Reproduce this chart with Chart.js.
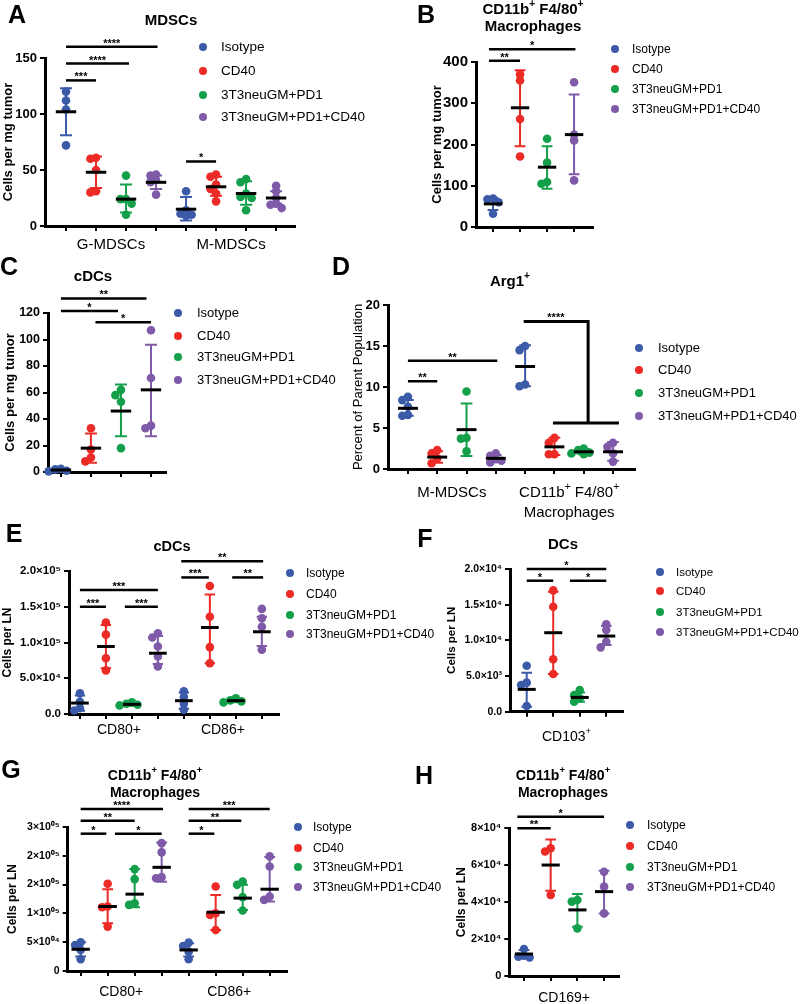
<!DOCTYPE html>
<html>
<head>
<meta charset="utf-8">
<script src="https://cdn.jsdelivr.net/npm/chart.js@4.4.1/dist/chart.umd.min.js"></script>
<style>
  html, body { margin: 0; padding: 0; background: #fff; }
  #page { position: relative; width: 800px; height: 1004px; overflow: hidden; }
  #page canvas { position: absolute; left: 0; top: 0; }
</style>
</head>
<body>
<div id="page"></div>
<script>
const FAMILY = '"Liberation Sans", Arial, sans-serif';
const groupNames = ['Isotype', 'CD40', '3T3neuGM+PD1', '3T3neuGM+PD1+CD40'];
const groupColors = ['#3b5aa7', '#ec2a26', '#14a04b', '#7e5aa8'];

// ---- A: MDSCs (cells per mg tumor) ----
const mdscCategories = ['G-MDSCs', 'M-MDSCs'];
const mdscPoints = [
  [120, 112, 104, 72], [61, 60, 50, 31, 30], [45, 24, 24, 20, 10], [46, 45, 41, 39, 28],
  [31, 14, 11, 10, 9], [46, 44, 37, 33, 29, 22], [42, 39, 29, 26, 25, 14], [36, 31, 25, 20, 19, 16]
];
const mdscMeans = [102, 48, 24, 39, 15, 35, 29, 25];
const mdscSdHigh = [123, 62, 37, 45, 26, 44, 40, 31];
const mdscSdLow = [81, 34, 12, 33, 5, 27, 19, 20];
const mdscSig = [[0, 1, 130, '***'], [0, 2.1, 145, '****'], [0, 3.05, 160, '****'], [4, 5, 57.6, '*']];
const mdscTicks = [0, 50, 100, 150];
const mdscTickLabels = ['0', '50', '100', '150'];

// ---- B: tumor macrophages ----
const macCategories = [];
const macPoints = [[69, 67, 60, 32], [370, 355, 262, 171], [214, 156, 109, 105], [351, 224, 210, 113]];
const macMeans = [56, 289, 145, 224];
const macSdHigh = [71, 380, 196, 321];
const macSdLow = [41, 196, 93, 128];
const macSig = [[-0.15, 1, 403, '**'], [-0.15, 3.05, 431, '*']];
const macTicks = [0, 100, 200, 300, 400];
const macTickLabels = ['0', '100', '200', '300', '400'];

// ---- C: tumor cDCs ----
const cdcCategories = [];
const cdcPoints = [[2.5, 2, 1, 0.5], [33, 17, 11, 8], [62, 58, 53, 18], [107, 71, 35, 33]];
const cdcMeans = [1.5, 18, 46, 62];
const cdcSdHigh = [2.5, 29, 66, 96];
const cdcSdLow = [0.5, 7, 27, 27];
const cdcSig = [[0, 2.85, 131, '**'], [0, 1.9, 121.5, '*'], [1.15, 3, 113, '*']];
const cdcTicks = [0, 20, 40, 60, 80, 100, 120];
const cdcTickLabels = ['0', '20', '40', '60', '80', '100', '120'];

// ---- D: Arg1+ percent of parent ----
const arg1Categories = ['M-MDSCs', 'CD11b^+ F4/80^+|Macrophages'];
const arg1Points = [
  [8.8, 8.4, 7.6, 6.6, 6.5], [2.3, 1.9, 1.3, 0.7], [9.45, 3.8, 3.7, 2.15], [1.9, 1.6, 1.2, 1.0, 0.8],
  [15.0, 14.5, 10.3, 10.1], [3.8, 3.2, 1.8, 1.8], [2.5, 2.3, 2.0, 1.9, 1.8], [3.2, 2.7, 1.9, 0.9]
];
const arg1Means = [7.4, 1.45, 4.8, 1.3, 12.5, 2.7, 2.1, 2.1];
const arg1SdHigh = [8.4, 2.15, 8.0, 1.7, 15.1, 3.8, 2.4, 3.3];
const arg1SdLow = [6.5, 0.75, 1.6, 0.9, 10.1, 1.7, 1.8, 1.0];
const arg1Sig = [[0, 1, 10.7, '**'], [0, 3.05, 13.2, '**']];
const arg1Bracket = [3.95, 6.15, 18.0, 4.95, 7.2, 5.6, '****']; // top from/to/y, base from/to/y
const arg1Ticks = [0, 5, 10, 15, 20];
const arg1TickLabels = ['0', '5', '10', '15', '20'];

// ---- E: LN cDCs ----
const lnCdcCategories = ['CD80+', 'CD86+'];
const lnCdcPoints = [
  [29000, 17000, 8000, 5000], [128000, 111000, 78000, 61000], [16300, 14400, 13000, 12000], [113000, 107000, 94400, 80500, 66500],
  [31600, 23700, 14400, 6000], [179000, 136000, 93500, 71000], [22000, 19000, 17700, 16300], [147000, 134000, 122000, 90000]
];
const lnCdcMeans = [15300, 94400, 13500, 85000, 18600, 121000, 18600, 115000];
const lnCdcSdHigh = [26000, 124600, 15500, 109000, 30000, 167000, 21000, 136000];
const lnCdcSdLow = [4600, 64000, 11500, 70000, 7400, 71000, 16500, 95000];
const lnCdcSig = [[0, 1, 150000, '***'], [1.73, 3, 150000, '***'], [0, 3, 173500, '***'],
  [3.9, 4.96, 191000, '***'], [5.86, 7.05, 191000, '**'], [3.9, 7.05, 213500, '**']];
const lnCdcTicks = [0, 50000, 100000, 150000, 200000];
const lnCdcTickLabels = ['0.0', '5.0×10⁴', '1.0×10⁵', '1.5×10⁵', '2.0×10⁵'];

// ---- F: LN DCs ----
const lnDcCategories = ['CD103^+'];
const lnDcPoints = [[6450, 4070, 3740, 800], [17000, 14700, 7340, 5280], [3040, 2340, 1870, 1400], [12240, 11450, 9800, 9020]];
const lnDcMeans = [3130, 11070, 2000, 10600];
const lnDcSdHigh = [5470, 16800, 2700, 12000];
const lnDcSdLow = [700, 5280, 1400, 9350];
const lnDcSig = [[0, 1, 18360, '*'], [1.63, 3, 18360, '*'], [0, 3, 20000, '*']];
const lnDcTicks = [0, 5000, 10000, 15000, 20000];
const lnDcTickLabels = ['0.0', '5.0×10³', '1.0×10⁴', '1.5×10⁴', '2.0×10⁴'];

// ---- G: LN macrophages ----
const lnMacCategories = ['CD80+', 'CD86+'];
const lnMacPoints = [
  [49900, 45200, 36500, 20300], [151400, 112000, 110800, 77100], [176900, 159500, 117700, 114800], [222000, 206000, 163000, 161000],
  [49300, 43500, 33600, 20300], [146800, 100300, 97400, 71300], [155500, 149600, 128200, 105000], [199000, 181500, 129300, 123500]
];
const lnMacMeans = [37700, 112000, 133400, 180000, 36500, 102000, 126500, 142000];
const lnMacSdHigh = [49900, 142000, 177000, 223000, 48000, 132000, 149600, 197800];
const lnMacSdLow = [25000, 83000, 110800, 155000, 25000, 71300, 106000, 120600];
const lnMacSig = [[0, 0.95, 238400, '*'], [1.27, 3, 238400, '*'], [0, 2, 261000, '**'], [0, 3.05, 281300, '****'],
  [4, 4.95, 238400, '*'], [4, 5.95, 261000, '**'], [4, 7, 281300, '***']];
const lnMacTicks = [0, 50000, 100000, 150000, 200000, 250000];
const lnMacTickLabels = ['0', '5×10⁰⁴', '1×10⁰⁵', '2×10⁰⁵', '2×10⁰⁵', '3×10⁰⁵'];

// ---- H: LN CD169+ macrophages ----
const cd169Categories = ['CD169+'];
const cd169Points = [[14600, 11000, 10500, 10100], [69200, 67400, 43900], [41200, 40300, 25800], [56500, 48400, 33900]];
const cd169Means = [11900, 60100, 35800, 45700];
const cd169SdHigh = [14100, 74000, 44400, 57000];
const cd169SdLow = [10100, 46200, 26700, 33900];
const cd169Sig = [[-0.25, 1, 80000, '**'], [-0.25, 3, 86300, '*']];
const cd169Ticks = [0, 20000, 40000, 60000, 80000];
const cd169TickLabels = ['0', '2×10⁴', '4×10⁴', '6×10⁴', '8×10⁴'];

// ---- layout (page pixels) ----
const panels = [
  { letter: 'A', lx: 17, ly: 16, title: ['MDSCs'], tx: 171, ty: [21], tSize: 15,
    box: [45, 58, 295, 226], xr: [-0.7, 7.63], yTitle: 'Cells per mg tumor', ytx: 8, ytFont: 'bold', ytSize: 13, tickSize: 13,
    leg: [203, 221, [47, 71, 95, 117], 13.5], catY: 245, catSize: 15,
    points: mdscPoints, means: mdscMeans, hi: mdscSdHigh, lo: mdscSdLow, sig: mdscSig, ticks: mdscTicks, labels: mdscTickLabels, cats: mdscCategories },
  { letter: 'B', lx: 426, ly: 16, title: ['CD11b^+ F4/80^+', 'Macrophages'], tx: 533, ty: [10, 27], tSize: 15,
    box: [476, 62, 593, 227], xr: [-0.63, 3.7], yTitle: 'Cells per mg tumor', ytx: 437, ytFont: 'bold', ytSize: 13, tickSize: 15,
    leg: [615, 632, [49, 69, 89, 109], 12], catY: 0, catSize: 15,
    points: macPoints, means: macMeans, hi: macSdHigh, lo: macSdLow, sig: macSig, ticks: macTicks, labels: macTickLabels, cats: macCategories },
  { letter: 'C', lx: 9, ly: 268, title: ['cDCs'], tx: 93, ty: [277], tSize: 15,
    box: [48, 313, 166, 472], xr: [-0.43, 3.5], yTitle: 'Cells per mg tumor', ytx: 10, ytFont: 'bold', ytSize: 13, tickSize: 12.5,
    leg: [178, 197, [313, 336, 357, 380], 13], catY: 0, catSize: 15,
    points: cdcPoints, means: cdcMeans, hi: cdcSdHigh, lo: cdcSdLow, sig: cdcSig, ticks: cdcTicks, labels: cdcTickLabels, cats: cdcCategories },
  { letter: 'D', lx: 341, ly: 268, title: ['Arg1^+'], tx: 510, ty: [282], tSize: 15,
    box: [388, 305, 635, 469], xr: [-0.68, 7.75], yTitle: 'Percent of Parent Population', ytx: 358, ytFont: 'normal', ytSize: 13, tickSize: 13,
    leg: [639, 658, [348, 370, 393, 416], 13], catY: 493, catSize: 15, bracket: arg1Bracket,
    points: arg1Points, means: arg1Means, hi: arg1SdHigh, lo: arg1SdLow, sig: arg1Sig, ticks: arg1Ticks, labels: arg1TickLabels, cats: arg1Categories },
  { letter: 'E', lx: 14, ly: 535, title: ['cDCs'], tx: 172, ty: [547], tSize: 14.5,
    box: [69, 571, 279, 714], xr: [-0.42, 7.66], yTitle: 'Cells per LN', ytx: 8, ytFont: 'bold', ytSize: 12, tickSize: 11.5,
    leg: [290, 306, [573, 594, 615, 634], 12], catY: 730, catSize: 14,
    points: lnCdcPoints, means: lnCdcMeans, hi: lnCdcSdHigh, lo: lnCdcSdLow, sig: lnCdcSig, ticks: lnCdcTicks, labels: lnCdcTickLabels, cats: lnCdcCategories },
  { letter: 'F', lx: 425, ly: 540, title: ['DCs'], tx: 563, ty: [545], tSize: 15,
    box: [510, 569, 622.7, 711.7], xr: [-0.63, 3.62], yTitle: 'Cells per LN', ytx: 452, ytFont: 'bold', ytSize: 11.5, tickSize: 10.5,
    leg: [660, 676, [572, 591, 612, 632], 11.5], catY: 737, catSize: 14,
    points: lnDcPoints, means: lnDcMeans, hi: lnDcSdHigh, lo: lnDcSdLow, sig: lnDcSig, ticks: lnDcTicks, labels: lnDcTickLabels, cats: lnDcCategories },
  { letter: 'G', lx: 11, ly: 771, title: ['CD11b^+ F4/80^+', 'Macrophages'], tx: 155, ty: [776, 793], tSize: 14,
    box: [67.7, 827, 286.7, 971], xr: [-0.48, 7.63], yTitle: 'Cells per LN', ytx: 13, ytFont: 'bold', ytSize: 12, tickSize: 10.5,
    leg: [298, 313, [827, 848, 867, 887], 12], catY: 992, catSize: 14,
    points: lnMacPoints, means: lnMacMeans, hi: lnMacSdHigh, lo: lnMacSdLow, sig: lnMacSig, ticks: lnMacTicks, labels: lnMacTickLabels, cats: lnMacCategories },
  { letter: 'H', lx: 424, ly: 777, title: ['CD11b^+ F4/80^+', 'Macrophages'], tx: 563, ty: [776, 793], tSize: 14,
    box: [509.3, 828.3, 619.3, 976], xr: [-0.55, 3.57], yTitle: 'Cells per LN', ytx: 462, ytFont: 'bold', ytSize: 12, tickSize: 11,
    leg: [630, 647, [825, 846, 867, 887], 12], catY: 998, catSize: 14,
    points: cd169Points, means: cd169Means, hi: cd169SdHigh, lo: cd169SdLow, sig: cd169Sig, ticks: cd169Ticks, labels: cd169TickLabels, cats: cd169Categories }
];

const POINT_R = 4.3;

// split "CD11b^+" into plain and superscript runs
function richParts(text) {
  const parts = [];
  let last = 0;
  text.replace(/\^(.)/g, (m, ch, i) => {
    if (i > last) parts.push([text.slice(last, i), false]);
    parts.push([ch, true]);
    last = i + m.length;
  });
  if (last < text.length) parts.push([text.slice(last), false]);
  return parts;
}

function drawRich(ctx, text, cx, cy, size, weight) {
  const parts = richParts(text);
  const fontOf = sup => `${weight} ${sup ? size * 0.68 : size}px ${FAMILY}`;
  let w = 0;
  parts.forEach(([s, sup]) => { ctx.font = fontOf(sup); w += ctx.measureText(s).width; });
  let xx = cx - w / 2;
  ctx.textAlign = 'left';
  ctx.textBaseline = 'middle';
  parts.forEach(([s, sup]) => {
    ctx.font = fontOf(sup);
    ctx.fillText(s, xx, sup ? cy - size * 0.38 : cy);
    xx += ctx.measureText(s).width;
  });
}

// nudge overlapping dots sideways, like a column scatter
function spreadColumn(vals, pyUnit, pxUnit) {
  const placed = [];
  const steps = [0, -1, 1, -1.6, 1.6, -2.2, 2.2];
  const gap = POINT_R * 1.3;
  return vals.map(v => {
    const py = v * pyUnit;
    for (const s of steps) {
      const px = s * gap;
      if (placed.every(q => Math.hypot(q[0] - px, q[1] - py) >= gap)) {
        placed.push([px, py]);
        return px / pxUnit;
      }
    }
    placed.push([0, py]);
    return 0;
  });
}

function makeOverlay(p) {
  return {
    id: 'overlay',
    beforeDatasetsDraw(chart) {
      const { ctx, scales: { x, y } } = chart;
      const unit = x.getPixelForValue(1) - x.getPixelForValue(0);
      ctx.save();
      ctx.lineWidth = 2;
      p.means.forEach((m, c) => {
        const cx = x.getPixelForValue(c);
        const cap = unit * 0.2;
        const hi = y.getPixelForValue(p.hi[c]);
        const lo = y.getPixelForValue(p.lo[c]);
        ctx.strokeStyle = groupColors[c % 4];
        ctx.beginPath();
        ctx.moveTo(cx, hi); ctx.lineTo(cx, lo);
        ctx.moveTo(cx - cap, hi); ctx.lineTo(cx + cap, hi);
        ctx.moveTo(cx - cap, lo); ctx.lineTo(cx + cap, lo);
        ctx.stroke();
      });
      ctx.restore();
    },
    afterDatasetsDraw(chart) {
      const { ctx, scales: { x, y } } = chart;
      const unit = x.getPixelForValue(1) - x.getPixelForValue(0);
      ctx.save();
      ctx.fillStyle = '#000';
      ctx.strokeStyle = '#000';

      // mean lines
      ctx.lineWidth = 3;
      p.means.forEach((m, c) => {
        const cx = x.getPixelForValue(c);
        const my = y.getPixelForValue(m);
        ctx.beginPath();
        ctx.moveTo(cx - unit * 0.34, my);
        ctx.lineTo(cx + unit * 0.34, my);
        ctx.stroke();
      });

      // significance bars
      ctx.lineWidth = 2.5;
      ctx.font = `bold 11px ${FAMILY}`;
      ctx.textAlign = 'center';
      ctx.textBaseline = 'alphabetic';
      p.sig.forEach(([a, b, v, s]) => {
        const x1 = x.getPixelForValue(a), x2 = x.getPixelForValue(b), yy = y.getPixelForValue(v);
        ctx.beginPath();
        ctx.moveTo(x1, yy); ctx.lineTo(x2, yy);
        ctx.stroke();
        ctx.fillText(s, (x1 + x2) / 2, yy);
      });
      if (p.bracket) {
        const [a, b, v, c, d, w, s] = p.bracket;
        ctx.lineWidth = 3;
        ctx.beginPath();
        ctx.moveTo(x.getPixelForValue(a), y.getPixelForValue(v));
        ctx.lineTo(x.getPixelForValue(b), y.getPixelForValue(v));
        ctx.lineTo(x.getPixelForValue(b), y.getPixelForValue(w));
        ctx.moveTo(x.getPixelForValue(c), y.getPixelForValue(w));
        ctx.lineTo(x.getPixelForValue(d), y.getPixelForValue(w));
        ctx.stroke();
        ctx.fillText(s, (x.getPixelForValue(a) + x.getPixelForValue(b)) / 2, y.getPixelForValue(v));
      }

      // category labels under the x axis
      p.cats.forEach((label, i) => {
        const cx = x.getPixelForValue(i * 4 + 1.5);
        label.split('|').forEach((line, k) => drawRich(ctx, line, cx, p.catY + k * 20, p.catSize, 'normal'));
      });

      // legend
      const [dotX, textX, rows, size] = p.leg;
      groupNames.forEach((name, g) => {
        ctx.fillStyle = groupColors[g];
        ctx.beginPath();
        ctx.arc(dotX, rows[g], 4, 0, Math.PI * 2);
        ctx.fill();
        ctx.fillStyle = '#000';
        ctx.font = `${size}px ${FAMILY}`;
        ctx.textAlign = 'left';
        ctx.textBaseline = 'middle';
        ctx.fillText(name, textX, rows[g] + 0.5);
      });

      // panel letter and title
      drawRich(ctx, p.letter, p.lx, p.ly, 25, 'bold');
      p.title.forEach((line, k) => drawRich(ctx, line, p.tx, p.ty[k], p.tSize, 'bold'));
      ctx.restore();
    }
  };
}

function buildPanel(p) {
  const canvas = document.createElement('canvas');
  canvas.width = 800;
  canvas.height = 1004;
  document.getElementById('page').appendChild(canvas);

  const [left, top, right, bottom] = p.box;
  const yMax = p.ticks[p.ticks.length - 1];
  const pyUnit = (bottom - top) / yMax;
  const pxUnit = (right - left) / (p.xr[1] - p.xr[0]);
  const cols = p.points.map((v, i) => i);

  const datasets = groupNames.map((name, g) => ({
    label: name,
    data: [],
    backgroundColor: groupColors[g],
    borderWidth: 0,
    pointRadius: POINT_R,
    clip: false
  }));
  p.points.forEach((vals, c) => {
    const offs = spreadColumn(vals, pyUnit, pxUnit);
    vals.forEach((v, i) => datasets[c % 4].data.push({ x: c + offs[i], y: v }));
  });

  const titleLh = p.ytSize * 1.2;
  const yW = left - p.ytx + titleLh / 2;
  const xH = 10;
  const axisGrid = { drawOnChartArea: false, drawTicks: true, tickLength: 5, color: '#000', lineWidth: 2 };
  const axisBorder = { display: true, color: '#000', width: 3 };

  new Chart(canvas, {
    type: 'scatter',
    data: { datasets },
    options: {
      responsive: false,
      animation: false,
      events: [],
      layout: { padding: { left: left - yW, top: top, right: 800 - right, bottom: 1004 - bottom - xH } },
      plugins: { legend: { display: false }, tooltip: { enabled: false } },
      scales: {
        x: {
          type: 'linear', min: p.xr[0], max: p.xr[1],
          afterBuildTicks: s => { s.ticks = cols.map(v => ({ value: v })); },
          afterFit: s => { s.height = xH; },
          ticks: { display: false },
          grid: axisGrid,
          border: axisBorder
        },
        y: {
          type: 'linear', min: 0, max: yMax,
          afterBuildTicks: s => { s.ticks = p.ticks.map(v => ({ value: v })); },
          afterFit: s => { s.width = yW; },
          ticks: {
            autoSkip: false, padding: 3, color: '#000',
            font: { family: FAMILY, size: p.tickSize, weight: 'bold' },
            callback: (v, i) => p.labels[i]
          },
          grid: axisGrid,
          border: axisBorder,
          title: {
            display: true, text: p.yTitle, color: '#000', padding: 0,
            font: { family: FAMILY, size: p.ytSize, weight: p.ytFont }
          }
        }
      }
    },
    plugins: [makeOverlay(p)]
  });
}

panels.forEach(buildPanel);
</script>
</body>
</html>
